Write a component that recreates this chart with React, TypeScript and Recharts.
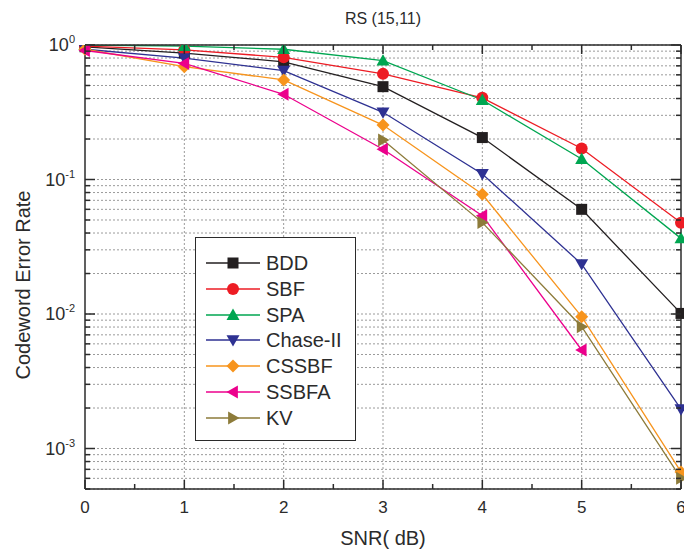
import React from "react";
import {
  LineChart,
  Line,
  XAxis,
  YAxis,
  CartesianGrid,
  ReferenceLine,
} from "recharts";

const FONT = "'Liberation Sans', Arial, Helvetica, sans-serif";
const INK = "#2b2b2b";

const snr = [0, 1, 2, 3, 4, 5, 6];
const bdd = [0.97, 0.87, 0.75, 0.49, 0.205, 0.06, 0.0101];
const sbf = [0.98, 0.92, 0.81, 0.61, 0.405, 0.17, 0.0477];
const spa = [1.0, 0.98, 0.93, 0.764, 0.39, 0.142, 0.0365];
const chase2 = [0.93, 0.8, 0.644, 0.316, 0.11, 0.0235, 0.00196];
const cssbf = [0.93, 0.69, 0.55, 0.254, 0.0776, 0.00955, 0.00067];
const ssbfa = [0.91, 0.73, 0.43, 0.168, 0.0538, 0.0054, null];
const kv = [null, null, null, 0.197, 0.0478, 0.00805, 0.0006];

const xTicks = [0, 0.5, 1, 1.5, 2, 2.5, 3, 3.5, 4, 4.5, 5, 5.5, 6];
const xGrid = [1, 2, 3, 4, 5];
const yDomain = [5e-4, 1];
const yMantissas = [1, 2, 3, 4, 5, 6, 7, 8, 9];
const yExponents = [-4, -3, -2, -1, 0];
const yTicks = yExponents
  .flatMap((e) => yMantissas.map((m) => m * Math.pow(10, e)))
  .filter((v) => v >= yDomain[0] * 0.999 && v <= yDomain[1] * 1.001);

type Shape = "square" | "circle" | "up" | "down" | "diamond" | "left" | "right";

const series: { name: string; key: string; values: (number | null)[]; color: string; shape: Shape }[] = [
  { name: "BDD", key: "bdd", values: bdd, color: "#231f20", shape: "square" },
  { name: "SBF", key: "sbf", values: sbf, color: "#ed1c24", shape: "circle" },
  { name: "SPA", key: "spa", values: spa, color: "#00a651", shape: "up" },
  { name: "Chase-II", key: "chase2", values: chase2, color: "#2e3192", shape: "down" },
  { name: "CSSBF", key: "cssbf", values: cssbf, color: "#f7941d", shape: "diamond" },
  { name: "SSBFA", key: "ssbfa", values: ssbfa, color: "#ec008c", shape: "left" },
  { name: "KV", key: "kv", values: kv, color: "#8d7b3a", shape: "right" },
];

const data = snr.map((x, i) => {
  const row: Record<string, number | undefined> = { snr: x };
  for (const s of series) {
    const v = s.values[i];
    if (v != null) row[s.key] = v;
  }
  return row;
});

function Marker({ cx, cy, shape, color }: { cx: number; cy: number; shape: Shape; color: string }) {
  const r = 6.5;
  switch (shape) {
    case "square":
      return <rect x={cx - 5.5} y={cy - 5.5} width={11} height={11} fill={color} />;
    case "circle":
      return <circle cx={cx} cy={cy} r={6} fill={color} />;
    case "up":
      return <polygon points={`${cx},${cy - r} ${cx - r},${cy + r * 0.75} ${cx + r},${cy + r * 0.75}`} fill={color} />;
    case "down":
      return <polygon points={`${cx},${cy + r} ${cx - r},${cy - r * 0.75} ${cx + r},${cy - r * 0.75}`} fill={color} />;
    case "diamond":
      return <polygon points={`${cx},${cy - r} ${cx + r},${cy} ${cx},${cy + r} ${cx - r},${cy}`} fill={color} />;
    case "left":
      return <polygon points={`${cx - r},${cy} ${cx + r * 0.75},${cy - r} ${cx + r * 0.75},${cy + r}`} fill={color} />;
    case "right":
      return <polygon points={`${cx + r},${cy} ${cx - r * 0.75},${cy - r} ${cx - r * 0.75},${cy + r}`} fill={color} />;
  }
}

const makeDot = (shape: Shape, color: string) => (props: any) => {
  const { cx, cy, value, index } = props;
  if (cx == null || cy == null || value == null) return <g key={index} />;
  return (
    <g key={index}>
      <Marker cx={cx} cy={cy} shape={shape} color={color} />
    </g>
  );
};

const isDecade = (v: number) => Math.abs(Math.log10(v) - Math.round(Math.log10(v))) < 1e-6;

function BottomTick(props: any) {
  const { x, y, payload } = props;
  const major = Number.isInteger(payload.value);
  return (
    <g>
      <line x1={x} x2={x} y1={y} y2={y - (major ? 9 : 5)} stroke={INK} strokeWidth={1.5} />
      {major && (
        <text x={x} y={y + 24} textAnchor="middle" fontSize={17} fontFamily={FONT} fill={INK}>
          {payload.value}
        </text>
      )}
    </g>
  );
}

function TopTick(props: any) {
  const { x, y, payload } = props;
  const major = Number.isInteger(payload.value);
  return <line x1={x} x2={x} y1={y} y2={y + (major ? 9 : 5)} stroke={INK} strokeWidth={1.5} />;
}

function LeftTick(props: any) {
  const { x, y, payload } = props;
  const major = isDecade(payload.value);
  const exp = Math.round(Math.log10(payload.value));
  return (
    <g>
      <line x1={x} x2={x + (major ? 10 : 5)} y1={y} y2={y} stroke={INK} strokeWidth={1.5} />
      {major && (
        <text x={x - 10} y={y + 6} textAnchor="end" fontSize={18} fontFamily={FONT} fill={INK}>
          <tspan>10</tspan>
          <tspan dy={-8} fontSize={11}>
            {exp}
          </tspan>
        </text>
      )}
    </g>
  );
}

function RightTick(props: any) {
  const { x, y, payload } = props;
  const major = isDecade(payload.value);
  return <line x1={x} x2={x - (major ? 10 : 5)} y1={y} y2={y} stroke={INK} strokeWidth={1.5} />;
}

function LegendBox() {
  return (
    <div
      style={{
        position: "absolute",
        left: 195,
        top: 237,
        width: 159,
        height: 202,
        border: `1.5px solid ${INK}`,
        background: "#fff",
        fontFamily: FONT,
      }}
    >
      {series.map((s, i) => (
        <div
          key={s.key}
          style={{ position: "absolute", left: 0, top: 12 + i * 25.8, height: 26, display: "flex", alignItems: "center" }}
        >
          <svg width={70} height={26}>
            <line x1={10} x2={64} y1={13} y2={13} stroke={s.color} strokeWidth={1.5} />
            <Marker cx={37} cy={13} shape={s.shape} color={s.color} />
          </svg>
          <span style={{ fontSize: 20, color: INK, lineHeight: "26px" }}>{s.name}</span>
        </div>
      ))}
    </div>
  );
}

export default function App() {
  return (
    <div style={{ position: "absolute", left: 0, top: 0, width: 684, height: 554, background: "#fff" }}>
      <LineChart
        width={684}
        height={554}
        data={data}
        margin={{ top: 44, right: 2, bottom: 35, left: 25 }}
        style={{ position: "absolute", left: 0, top: 0 }}
      >
        <CartesianGrid
          xAxisId="b"
          yAxisId="l"
          vertical={false}
          stroke="#9a9a9a"
          strokeDasharray="2 2"
        />
        {xGrid.map((g) => (
          <ReferenceLine key={g} x={g} xAxisId="b" yAxisId="l" stroke="#9a9a9a" strokeDasharray="2 2" />
        ))}
        <XAxis
          xAxisId="b"
          dataKey="snr"
          type="number"
          domain={[0, 6]}
          ticks={xTicks}
          interval={0}
          height={30}
          tickSize={0}
          tickMargin={0}
          tickLine={false}
          axisLine={{ stroke: INK, strokeWidth: 1.5 }}
          tick={<BottomTick />}
        />
        <XAxis
          xAxisId="t"
          orientation="top"
          dataKey="snr"
          type="number"
          domain={[0, 6]}
          ticks={xTicks}
          interval={0}
          height={1}
          tickSize={0}
          tickMargin={0}
          tickLine={false}
          axisLine={{ stroke: INK, strokeWidth: 1.5 }}
          tick={<TopTick />}
        />
        <YAxis
          yAxisId="l"
          scale="log"
          domain={yDomain}
          allowDataOverflow
          ticks={yTicks}
          interval={0}
          width={60}
          tickSize={0}
          tickMargin={0}
          tickLine={false}
          axisLine={{ stroke: INK, strokeWidth: 1.5 }}
          tick={<LeftTick />}
        />
        <YAxis
          yAxisId="r"
          orientation="right"
          scale="log"
          domain={yDomain}
          allowDataOverflow
          ticks={yTicks}
          interval={0}
          width={1}
          tickSize={0}
          tickMargin={0}
          tickLine={false}
          axisLine={{ stroke: INK, strokeWidth: 1.5 }}
          tick={<RightTick />}
        />
        {series.map((s) => (
          <Line
            key={s.key}
            xAxisId="b"
            yAxisId="l"
            dataKey={s.key}
            name={s.name}
            stroke={s.color}
            strokeWidth={1.3}
            dot={makeDot(s.shape, s.color)}
            activeDot={false}
            isAnimationActive={false}
          />
        ))}
      </LineChart>
      <LegendBox />
      <div
        style={{
          position: "absolute",
          left: 0,
          width: 766,
          top: 10,
          textAlign: "center",
          fontFamily: FONT,
          fontSize: 16,
          color: INK,
        }}
      >
        RS (15,11)
      </div>
      <div
        style={{
          position: "absolute",
          left: 0,
          width: 766,
          top: 527,
          textAlign: "center",
          fontFamily: FONT,
          fontSize: 20,
          color: INK,
        }}
      >
        SNR( dB)
      </div>
      <div
        style={{
          position: "absolute",
          left: 23,
          top: 285,
          transform: "translate(-50%, -50%) rotate(-90deg)",
          whiteSpace: "nowrap",
          fontFamily: FONT,
          fontSize: 20,
          color: INK,
        }}
      >
        Codeword Error Rate
      </div>
    </div>
  );
}
